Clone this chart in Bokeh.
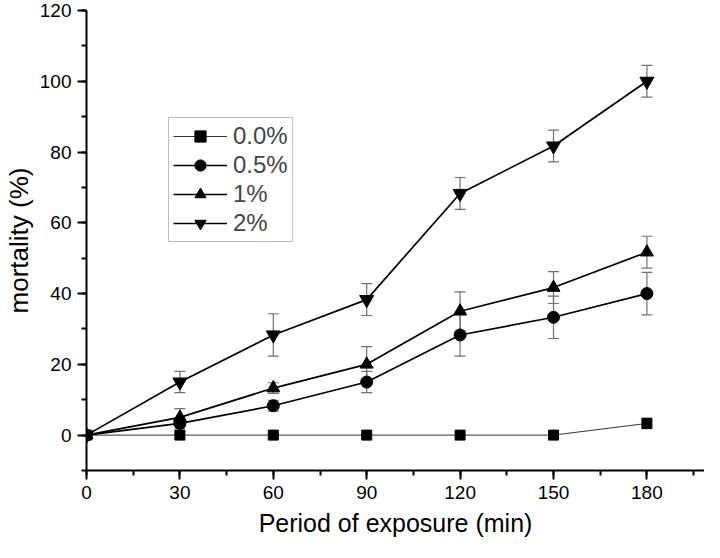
from bokeh.plotting import figure
from bokeh.models import (ColumnDataSource, Range1d, SingleIntervalTicker, Whisker,
                          TeeHead, Legend, LegendItem)
from bokeh.embed import file_html
from bokeh.resources import INLINE

time = [0, 30, 60, 90, 120, 150, 180]
series_names = ["0.0%", "0.5%", "1%", "2%"]
m00 = [0, 0, 0, 0, 0, 0, 3.3]
e00 = [0, 0, 0, 0, 0, 0, 1.5]
m05 = [0, 3.3, 8.3, 15, 28.3, 33.3, 40]
e05 = [0, 1.5, 1.5, 3, 6, 6, 6]
m1 = [0, 5, 13.3, 20, 35, 41.7, 51.7]
e1 = [0, 2.5, 1.5, 5, 5.5, 4.5, 4.5]
m2 = [0, 15, 28.3, 38.3, 68.3, 81.7, 100]
e2 = [0, 3, 6, 4.5, 4.5, 4.5, 4.5]

FONT = "Liberation Sans"

p = figure(width=704, height=542, output_backend="svg", toolbar_location=None,
           x_range=Range1d(0, 198.5), y_range=Range1d(-10, 120),
           min_border_left=80, min_border_right=0, min_border_top=10, min_border_bottom=72)
p.outline_line_color = None
p.xgrid.visible = False
p.ygrid.visible = False
p.background_fill_color = "white"

p.xaxis.ticker = SingleIntervalTicker(interval=30, num_minor_ticks=2)
p.yaxis.ticker = SingleIntervalTicker(interval=20, num_minor_ticks=2)
for ax in (p.xaxis[0], p.yaxis[0]):
    ax.axis_line_width = 2
    ax.major_tick_line_width = 2
    ax.minor_tick_line_width = 2
    ax.major_tick_in = 0
    ax.major_tick_out = 9
    ax.minor_tick_in = 0
    ax.minor_tick_out = 5
    ax.major_label_text_font = FONT
    ax.major_label_text_font_size = "19px"
    ax.major_label_text_color = "black"
    ax.axis_label_text_font = FONT
    ax.axis_label_text_font_style = "normal"
    ax.axis_label_text_color = "black"
p.xaxis.axis_label = "Period of exposure (min)"
p.yaxis.axis_label = "mortality (%)"
p.xaxis.axis_label_text_font_size = "25px"
p.yaxis.axis_label_text_font_size = "26px"
p.xaxis.major_label_standoff = 6
p.yaxis.major_label_standoff = 6
p.xaxis.axis_label_standoff = 7
p.yaxis.axis_label_standoff = 3

means = [m00, m05, m1, m2]
errs = [e00, e05, e1, e2]
markers = ["square", "circle", "triangle", "inverted_triangle"]
sizes = [10, 12, 13, 14]
lws = [1, 1.7, 1.7, 1.7]
lcols = ["#333333", "black", "black", "black"]

items = []
for name, m, e, mk, sz, lw, lc in zip(series_names, means, errs, markers, sizes, lws, lcols):
    xs = [t for t, ee in zip(time, e) if ee > 0]
    base = [mm for mm, ee in zip(m, e) if ee > 0]
    ev = [ee for ee in e if ee > 0]
    src = ColumnDataSource(dict(x=xs, upper=[b + v for b, v in zip(base, ev)],
                                lower=[b - v for b, v in zip(base, ev)]))
    w = Whisker(base="x", upper="upper", lower="lower", source=src, dimension="height",
                line_color="#707070", line_width=1.2, level="underlay",
                upper_head=TeeHead(size=11, line_color="#707070", line_width=1.2),
                lower_head=TeeHead(size=11, line_color="#707070", line_width=1.2))
    p.add_layout(w)
    r1 = p.line(time, m, line_color=lc, line_width=lw)
    r2 = p.scatter(time, m, marker=mk, size=sz, fill_color="black", line_color="black")
    items.append(LegendItem(label=name, renderers=[r1, r2]))

legend = Legend(items=items, location=(82, 228), padding=4, margin=0, spacing=1,
                glyph_width=54, glyph_height=28, label_height=28, label_standoff=6,
                label_text_font=FONT, label_text_font_size="24px",
                border_line_color="#808080", border_line_width=1.5,
                background_fill_color="white")
p.add_layout(legend, "center")

open("out.html", "w").write(file_html(p, INLINE))
